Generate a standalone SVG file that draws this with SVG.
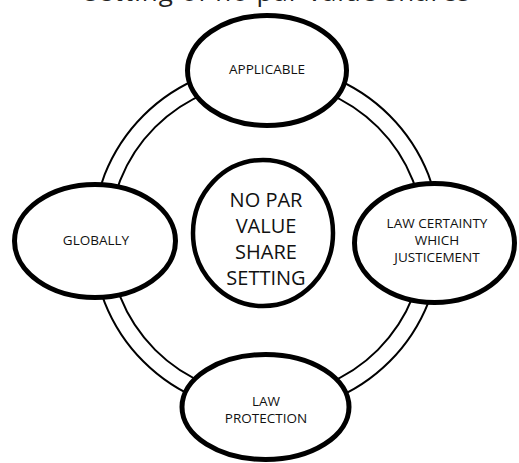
<svg xmlns="http://www.w3.org/2000/svg" width="519" height="463" viewBox="0 0 519 463">
  <style>
    .ring { fill: none; stroke: #000; stroke-width: 2; }
    .node { fill: #fff; stroke: #000; stroke-width: 5; }
    .hub { fill: #fff; stroke: #000; stroke-width: 4.5; }
    .lbl { font-family: "Open Sans", "Noto Sans", sans-serif; font-size: 13.5px; fill: #111; text-anchor: middle; }
    .hubtxt { font-family: "Open Sans", "Noto Sans", sans-serif; font-size: 20px; fill: #111; text-anchor: middle; }
    .title { font-family: "Open Sans", "Noto Sans", sans-serif; font-size: 26px; fill: #222; }
  </style>
  <rect width="519" height="463" fill="#fff"/>

  <!-- caption, clipped by the top edge -->
  <text class="title" x="85" y="0.5" textLength="385" lengthAdjust="spacing">setting of no par value shares</text>

  <!-- connectors: double ring joining the outer nodes -->
  <g id="connectors">
    <circle class="ring" cx="266.5" cy="238.5" r="174"/>
    <circle class="ring" cx="266.5" cy="238.5" r="157.5"/>
  </g>

  <g id="hub">
    <ellipse class="hub" cx="263" cy="233" rx="70" ry="73"/>
    <text class="hubtxt" x="266" y="207">NO PAR</text>
    <text class="hubtxt" x="266" y="233">VALUE</text>
    <text class="hubtxt" x="266" y="259">SHARE</text>
    <text class="hubtxt" x="266" y="285">SETTING</text>
  </g>

  <g id="applicable">
    <ellipse class="node" cx="267" cy="70.5" rx="79.5" ry="55"/>
    <text class="lbl" x="267" y="74">APPLICABLE</text>
  </g>

  <g id="globally">
    <ellipse class="node" cx="95" cy="241" rx="80.5" ry="56.5"/>
    <text class="lbl" x="96" y="245">GLOBALLY</text>
  </g>

  <g id="law-certainty">
    <ellipse class="node" cx="434.5" cy="243" rx="80" ry="59.5"/>
    <text class="lbl" x="437" y="228">LAW CERTAINTY</text>
    <text class="lbl" x="437" y="245">WHICH</text>
    <text class="lbl" x="437" y="262">JUSTICEMENT</text>
  </g>

  <g id="law-protection">
    <ellipse class="node" cx="265.5" cy="407" rx="83.5" ry="52.5"/>
    <text class="lbl" x="266" y="406">LAW</text>
    <text class="lbl" x="266" y="423">PROTECTION</text>
  </g>
</svg>
